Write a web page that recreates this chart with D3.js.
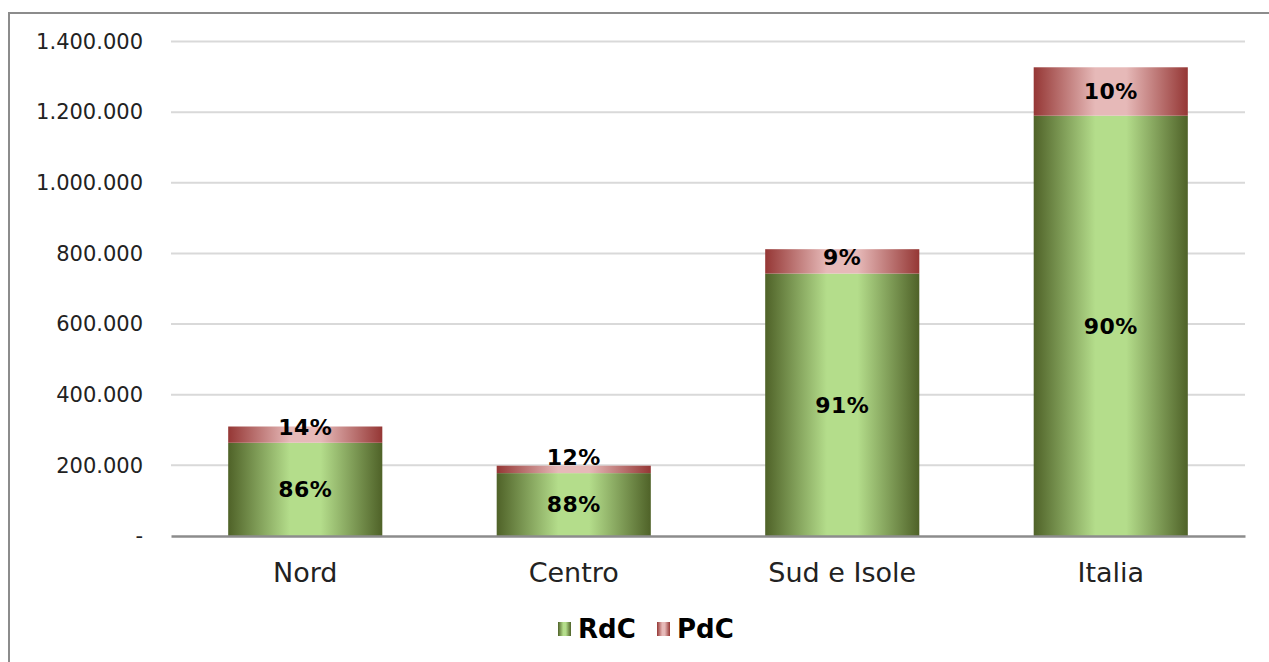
<!doctype html>
<html>
<head>
    <style>
        body { margin: 0; background: #fff; }
        svg, svg text { font-family: Verdana, "DejaVu Sans", sans-serif; }
        svg { display: block; }
        .grid line { stroke: #d9d9d9; stroke-width: 2; }
        .tick text { fill: #222; }
    </style>
    <script src="https://d3js.org/d3.v7.min.js"></script>
</head>
<body>
    <svg width="1269" height="662"></svg>
    <script>
        var categories = ["Nord", "Centro", "Sud e Isole", "Italia"];
        var rdc = [264000, 178000, 743000, 1190000]; // RdC
        var pdc = [46000, 21000, 69000, 137000];     // PdC
        var rdcLabels = ["86%", "88%", "91%", "90%"];
        var pdcLabels = ["14%", "12%", "9%", "10%"];
        var yTicks = [0, 200000, 400000, 600000, 800000, 1000000, 1200000, 1400000];
        var seriesNames = ["RdC", "PdC"];

        var svg = d3.select("svg");

        // outer frame (only left and top edges visible)
        svg.append("path")
            .attr("d", "M9,662 V13 H1269")
            .attr("fill", "none")
            .attr("stroke", "#8c8c8c")
            .attr("stroke-width", 2);

        var margin = { top: 41.5, left: 171 },
            width = 1245 - margin.left,
            height = 536 - margin.top;

        var g = svg.append("g")
            .attr("transform", "translate(" + margin.left + "," + margin.top + ")");

        var x = d3.scaleBand()
            .domain(categories)
            .range([0, width])
            .paddingInner(0.426)
            .paddingOuter(0.213);

        var y = d3.scaleLinear()
            .domain([0, 1400000])
            .range([height, 0]);

        var itFormat = d3.formatLocale({ decimal: ",", thousands: ".", grouping: [3], currency: ["€", ""] }).format(",.0f");

        // gradients
        var defs = svg.append("defs");
        function makeGrad(id, edge, mid) {
            var gr = defs.append("linearGradient").attr("id", id)
                .attr("x1", "0%").attr("x2", "100%").attr("y1", "0%").attr("y2", "0%");
            gr.append("stop").attr("offset", "0%").attr("stop-color", edge);
            gr.append("stop").attr("offset", "40%").attr("stop-color", mid);
            gr.append("stop").attr("offset", "60%").attr("stop-color", mid);
            gr.append("stop").attr("offset", "100%").attr("stop-color", edge);
        }
        makeGrad("gGreen", "#4f6228", "#b4dd8b");
        makeGrad("gRed", "#953735", "#e6b9b8");

        // gridlines
        g.append("g")
            .attr("class", "grid")
            .selectAll("line")
            .data(yTicks.filter(function (d) { return d > 0; }))
            .enter().append("line")
            .attr("x1", 0).attr("x2", width)
            .attr("y1", function (d) { return y(d); })
            .attr("y2", function (d) { return y(d); });

        // y axis labels
        var yAxis = g.append("g")
            .call(d3.axisLeft(y).tickValues(yTicks).tickSize(0).tickPadding(28)
                .tickFormat(function (d) { return d === 0 ? "-" : itFormat(d); }));
        yAxis.attr("font-family", null);
        yAxis.select(".domain").remove();
        yAxis.selectAll("text").style("font-size", "21px");

        // stacked bars
        var stack = categories.map(function (c, i) {
            return { cat: c, r: rdc[i], p: pdc[i], rl: rdcLabels[i], pl: pdcLabels[i] };
        });

        var bars = g.selectAll(".bar").data(stack).enter().append("g");

        bars.append("rect")
            .attr("x", function (d) { return x(d.cat); })
            .attr("width", x.bandwidth())
            .attr("y", function (d) { return y(d.r); })
            .attr("height", function (d) { return height - y(d.r); })
            .attr("fill", "url(#gGreen)");

        bars.append("rect")
            .attr("x", function (d) { return x(d.cat); })
            .attr("width", x.bandwidth())
            .attr("y", function (d) { return y(d.r + d.p); })
            .attr("height", function (d) { return y(d.r) - y(d.r + d.p); })
            .attr("fill", "url(#gRed)");

        bars.append("text")
            .attr("x", function (d) { return x(d.cat) + x.bandwidth() / 2; })
            .attr("y", function (d) { return (y(0) + y(d.r)) / 2; })
            .attr("dy", "0.36em")
            .attr("text-anchor", "middle")
            .style("font-size", "22px").style("font-weight", "bold")
            .style("letter-spacing", "0.5px")
            .text(function (d) { return d.rl; });

        bars.append("text")
            .attr("x", function (d) { return x(d.cat) + x.bandwidth() / 2; })
            .attr("y", function (d) { return Math.min((y(d.r) + y(d.r + d.p)) / 2, y(d.r) - 16); })
            .attr("dy", "0.36em")
            .attr("text-anchor", "middle")
            .style("font-size", "22px").style("font-weight", "bold")
            .style("letter-spacing", "0.5px")
            .text(function (d) { return d.pl; });

        // x axis
        var xAxis = g.append("g")
            .attr("transform", "translate(0," + height + ")")
            .call(d3.axisBottom(x).tickSize(0).tickPadding(0));
        xAxis.attr("font-family", null);
        xAxis.select(".domain").attr("stroke", "#8c8c8c").attr("stroke-width", 2.5);
        xAxis.selectAll("text")
            .attr("y", 46).attr("dy", null)
            .style("font-size", "27px");

        // legend
        var legend = svg.append("g").attr("transform", "translate(558,622)");
        var lx = [0, 99];
        var grads = ["url(#gGreen)", "url(#gRed)"];
        seriesNames.forEach(function (s, i) {
            legend.append("rect")
                .attr("x", lx[i]).attr("y", 0)
                .attr("width", 13).attr("height", 14)
                .attr("fill", grads[i]);
            legend.append("text")
                .attr("x", lx[i] + 20).attr("y", 15.5)
                .style("font-size", "26px").style("font-weight", "bold")
                .text(s);
        });
    </script>
</body>
</html>
